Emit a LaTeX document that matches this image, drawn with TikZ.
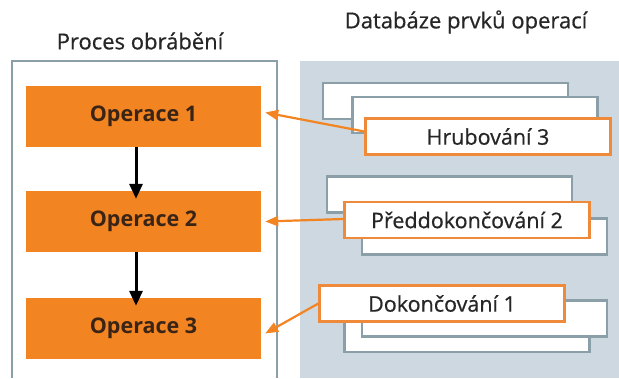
\documentclass[tikz,border=0pt]{standalone}
\usepackage{fontspec}
\setmainfont{Open Sans}
\newfontfamily\medfont[FakeBold=0.6]{Open Sans}
\usetikzlibrary{arrows.meta}
\definecolor{fhorange}{HTML}{F28522}
\definecolor{oborder}{HTML}{EF8A3A}
\definecolor{panelbg}{HTML}{CED8E0}
\definecolor{grayedge}{HTML}{8B9FA9}
\definecolor{optext}{HTML}{3A2416}
\definecolor{labtext}{HTML}{262626}
\tikzset{
  opbox/.style={fill=fhorange, draw=none, minimum width=235pt, minimum height=61pt, inner sep=0pt,
    font=\fontsize{21.5}{24}\selectfont\bfseries, text=optext},
  backcard/.style={fill=white, draw=grayedge, line width=2.2pt, minimum width=245pt, minimum height=36pt, inner sep=0pt},
  frontcard/.style={fill=white, draw=oborder, line width=2.4pt, minimum width=245pt, minimum height=36pt, inner sep=0pt,
    font=\medfont\fontsize{21.5}{25}\selectfont, text=labtext},
  title/.style={font=\medfont\fontsize{22}{25}\selectfont, text=labtext},
  downarrow/.style={line width=3pt, -{Triangle[length=15pt,width=13pt]}},
  oarrow/.style={draw=fhorange, line width=2.2pt, -{Triangle[length=13pt,width=10pt]}}
}
\begin{document}
\begin{tikzpicture}[x=1pt,y=-1pt]
\useasboundingbox (0,0) rectangle (619,378);
\fill[white] (0,0) rectangle (619,378);
% right panel
\fill[panelbg] (300,61) rectangle (619,378);
% left panel frame
\coordinate (lbl) at (12,378);
\coordinate (lbr) at (277,378);
\draw[grayedge, line width=2.2pt] (lbl) -- (12,61) -- (277,61) -- (lbr);
% titles
\node[title] (t1) at (140,41) {Proces obrábění};
\node[title] (t2) at (466,22) {Databáze prvků operací};
% operations
\node[opbox] (op1) at (143.5,116.5) {Operace 1};
\node[opbox] (op2) at (143.5,221.5) {Operace 2};
\node[opbox] (op3) at (143.5,328.5) {Operace 3};
\draw[downarrow] (op1.south -| 136,0) -- ([yshift=-8pt]op2.north -| 136,0);
\draw[downarrow] (op2.south -| 136,0) -- ([yshift=-8pt]op3.north -| 136,0);
% stack 1
\node[backcard] (a1) at (445.5,101) {};
\node[backcard] (a2) at (475,115) {};
\node[frontcard] (hr) at (488,136.5) {Hrubování 3};
% stack 2
\node[backcard] (b1) at (449.5,194.5) {};
\node[backcard] (b2) at (484.5,236.5) {};
\node[frontcard] (pd) at (467,220) {Předdokončování 2};
% stack 3
\node[backcard] (c1) at (467,334) {};
\node[backcard] (c2) at (484.5,318.5) {};
\node[frontcard] (dk) at (442,303.5) {Dokončování 1};
% connectors
\draw[oarrow] ([yshift=5pt]hr.west) -- ([xshift=4pt,yshift=4pt]op1.east);
\draw[oarrow] ([yshift=1pt]pd.west) -- ([xshift=4pt]op2.east);
\draw[oarrow] (dk.west) -- ([xshift=4pt,yshift=-5pt]op3.east);
\end{tikzpicture}
\end{document}
